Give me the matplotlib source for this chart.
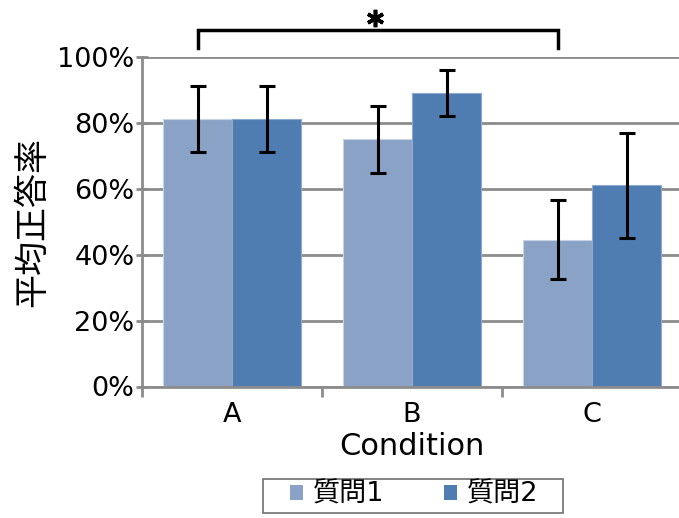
import numpy as np
import matplotlib.pyplot as plt
from matplotlib.patches import Rectangle

plt.rcParams['font.family'] = ['DejaVu Sans', 'Noto Sans CJK JP']

CONDITIONS = ['A', 'B', 'C']
SERIES = ['質問1', '質問2']
Q1 = np.array([81.0, 75.0, 44.5])
Q2 = np.array([81.0, 89.0, 61.0])
Q1_ERR = np.array([10.0, 10.2, 11.9])
Q2_ERR = np.array([10.0, 7.1, 16.0])
COLORS = ['#8AA2C6', '#4F7DB2']

fig = plt.figure(figsize=(6.79, 5.18), dpi=100)
ax = fig.add_axes([142 / 679, 1 - 386.5 / 518, 540 / 679, 329.8 / 518])

x = np.arange(len(CONDITIONS))
w = 69 / 180
err_kw = dict(ecolor='black', elinewidth=2.2, capsize=5.5, capthick=2.2)
b1 = ax.bar(x - w / 2, Q1, w, color=COLORS[0], edgecolor='#C8D3E3', linewidth=0.8,
            yerr=Q1_ERR, error_kw=err_kw, label=SERIES[0], zorder=2)
b2 = ax.bar(x + w / 2, Q2, w, color=COLORS[1], edgecolor='#8DA9CF', linewidth=0.8,
            yerr=Q2_ERR, error_kw=err_kw, label=SERIES[1], zorder=2)

ax.set_xlim(-0.5, len(CONDITIONS) - 0.5)
ax.set_ylim(0, 100)
ax.set_yticks(np.arange(0, 101, 20))
ax.set_yticklabels([f'{v}%' for v in range(0, 101, 20)])
ax.yaxis.grid(True, color='#8C8C8C', linewidth=2, zorder=0)
ax.set_axisbelow(True)

ax.set_xticks(np.arange(-0.5, len(CONDITIONS), 1.0))
ax.set_xticklabels([])
ax.set_xticks(x, minor=True)
ax.set_xticklabels(CONDITIONS, minor=True)
ax.tick_params(axis='x', which='major', direction='out', length=7, width=2, color='#8C8C8C')
ax.tick_params(axis='x', which='minor', length=0, labelsize=19.5, pad=11)
ax.tick_params(axis='y', direction='inout', length=9, width=2, color='#8C8C8C',
               labelsize=19.5, pad=1)

for s in ['top', 'right']:
    ax.spines[s].set_visible(False)
for s in ['left', 'bottom']:
    ax.spines[s].set_color('#8C8C8C')
    ax.spines[s].set_linewidth(2)

ax.set_xlabel('Condition', fontsize=22, labelpad=3)
ax.set_ylabel('平均正答率', fontsize=24.5, labelpad=6)

# significance bracket between A(質問1) and C(質問1)
x0, x1 = x[0] - w / 2, x[2] - w / 2
ax.plot([x0, x0, x1, x1], [102.5, 108, 108, 102.5], color='black', lw=2.5,
        clip_on=False, solid_joinstyle='miter')
ax.plot((x0 + x1) / 2 - 0.015, 111.7, marker=(6, 2, 0), ms=12.5, mew=2.6, color='black',
        clip_on=False)

leg = fig.legend(handles=[b1, b2], loc='center', bbox_to_anchor=(414 / 679, 1 - 495 / 518),
                 ncol=2, fontsize=19.5, frameon=False,
                 handlelength=0.5, handleheight=0.5, handletextpad=0.35, columnspacing=2.2,
                 borderpad=0.15)
for h in leg.legend_handles:
    h.set_edgecolor('none')
fig.patches.append(Rectangle((263 / 679, 1 - 513 / 518), 300 / 679, 34 / 518,
                             transform=fig.transFigure, fill=False,
                             edgecolor='#6E6E6E', linewidth=1.2))

fig.savefig('out.png', dpi=100)
